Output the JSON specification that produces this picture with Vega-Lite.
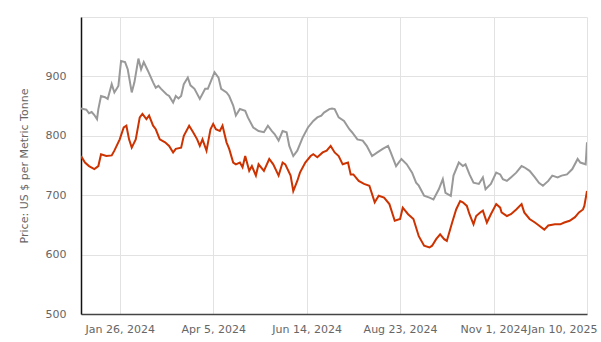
{
  "$schema": "https://vega.github.io/schema/vega-lite/v6.json",
  "width": 506,
  "height": 297,
  "autosize": {"type": "none"},
  "padding": {"left": 81, "top": 17, "right": 14, "bottom": 28},
  "background": "white",
  "config": {"view": {"stroke": null}},
  "datasets": {
    "grey": [
      {"date":"2023-12-28","price":846},{"date":"2024-01-01","price":844},{"date":"2024-01-03","price":838},{"date":"2024-01-05","price":840},{"date":"2024-01-07","price":835},{"date":"2024-01-09","price":828},{"date":"2024-01-10","price":845},{"date":"2024-01-12","price":867},{"date":"2024-01-15","price":865},{"date":"2024-01-17","price":862},{"date":"2024-01-20","price":887},{"date":"2024-01-22","price":873},{"date":"2024-01-25","price":884},{"date":"2024-01-27","price":926},{"date":"2024-01-30","price":924},{"date":"2024-02-01","price":912},{"date":"2024-02-04","price":873},{"date":"2024-02-06","price":890},{"date":"2024-02-09","price":930},{"date":"2024-02-11","price":912},{"date":"2024-02-13","price":924},{"date":"2024-02-16","price":910},{"date":"2024-02-20","price":890},{"date":"2024-02-22","price":881},{"date":"2024-02-24","price":884},{"date":"2024-02-26","price":879},{"date":"2024-03-01","price":870},{"date":"2024-03-03","price":867},{"date":"2024-03-06","price":856},{"date":"2024-03-08","price":867},{"date":"2024-03-10","price":863},{"date":"2024-03-12","price":867},{"date":"2024-03-14","price":887},{"date":"2024-03-17","price":898},{"date":"2024-03-19","price":885},{"date":"2024-03-22","price":879},{"date":"2024-03-26","price":862},{"date":"2024-03-30","price":879},{"date":"2024-04-01","price":879},{"date":"2024-04-04","price":896},{"date":"2024-04-06","price":907},{"date":"2024-04-09","price":898},{"date":"2024-04-11","price":879},{"date":"2024-04-15","price":873},{"date":"2024-04-17","price":867},{"date":"2024-04-20","price":851},{"date":"2024-04-22","price":834},{"date":"2024-04-25","price":845},{"date":"2024-04-29","price":842},{"date":"2024-05-01","price":831},{"date":"2024-05-05","price":814},{"date":"2024-05-09","price":808},{"date":"2024-05-13","price":806},{"date":"2024-05-16","price":817},{"date":"2024-05-19","price":808},{"date":"2024-05-21","price":803},{"date":"2024-05-24","price":792},{"date":"2024-05-27","price":808},{"date":"2024-05-30","price":806},{"date":"2024-06-01","price":783},{"date":"2024-06-04","price":766},{"date":"2024-06-07","price":775},{"date":"2024-06-11","price":797},{"date":"2024-06-15","price":814},{"date":"2024-06-19","price":825},{"date":"2024-06-22","price":831},{"date":"2024-06-25","price":834},{"date":"2024-06-27","price":839},{"date":"2024-07-01","price":845},{"date":"2024-07-03","price":846},{"date":"2024-07-05","price":845},{"date":"2024-07-08","price":831},{"date":"2024-07-12","price":825},{"date":"2024-07-16","price":811},{"date":"2024-07-18","price":806},{"date":"2024-07-22","price":794},{"date":"2024-07-26","price":792},{"date":"2024-07-29","price":783},{"date":"2024-08-02","price":766},{"date":"2024-08-06","price":772},{"date":"2024-08-10","price":778},{"date":"2024-08-14","price":783},{"date":"2024-08-16","price":772},{"date":"2024-08-20","price":749},{"date":"2024-08-24","price":761},{"date":"2024-08-28","price":752},{"date":"2024-09-01","price":738},{"date":"2024-09-04","price":721},{"date":"2024-09-06","price":716},{"date":"2024-09-10","price":699},{"date":"2024-09-14","price":696},{"date":"2024-09-17","price":693},{"date":"2024-09-21","price":710},{"date":"2024-09-24","price":727},{"date":"2024-09-26","price":704},{"date":"2024-09-30","price":699},{"date":"2024-10-02","price":733},{"date":"2024-10-06","price":755},{"date":"2024-10-09","price":749},{"date":"2024-10-11","price":752},{"date":"2024-10-14","price":735},{"date":"2024-10-17","price":721},{"date":"2024-10-21","price":719},{"date":"2024-10-24","price":730},{"date":"2024-10-26","price":710},{"date":"2024-10-30","price":719},{"date":"2024-11-03","price":738},{"date":"2024-11-06","price":735},{"date":"2024-11-08","price":727},{"date":"2024-11-11","price":724},{"date":"2024-11-14","price":730},{"date":"2024-11-18","price":738},{"date":"2024-11-22","price":749},{"date":"2024-11-24","price":747},{"date":"2024-11-28","price":741},{"date":"2024-12-02","price":730},{"date":"2024-12-05","price":721},{"date":"2024-12-08","price":716},{"date":"2024-12-12","price":724},{"date":"2024-12-15","price":733},{"date":"2024-12-19","price":730},{"date":"2024-12-22","price":733},{"date":"2024-12-26","price":735},{"date":"2024-12-30","price":744},{"date":"2025-01-03","price":761},{"date":"2025-01-05","price":755},{"date":"2025-01-09","price":752},{"date":"2025-01-10","price":789}
    ],
    "red": [
      {"date":"2023-12-28","price":766},{"date":"2023-12-31","price":755},{"date":"2024-01-03","price":749},{"date":"2024-01-07","price":744},{"date":"2024-01-10","price":749},{"date":"2024-01-12","price":769},{"date":"2024-01-16","price":766},{"date":"2024-01-20","price":767},{"date":"2024-01-22","price":775},{"date":"2024-01-26","price":794},{"date":"2024-01-29","price":814},{"date":"2024-01-31","price":817},{"date":"2024-02-02","price":794},{"date":"2024-02-04","price":780},{"date":"2024-02-07","price":794},{"date":"2024-02-10","price":831},{"date":"2024-02-12","price":837},{"date":"2024-02-15","price":828},{"date":"2024-02-17","price":834},{"date":"2024-02-20","price":817},{"date":"2024-02-22","price":811},{"date":"2024-02-25","price":794},{"date":"2024-02-29","price":789},{"date":"2024-03-03","price":783},{"date":"2024-03-06","price":772},{"date":"2024-03-08","price":778},{"date":"2024-03-12","price":780},{"date":"2024-03-14","price":800},{"date":"2024-03-18","price":817},{"date":"2024-03-21","price":806},{"date":"2024-03-24","price":794},{"date":"2024-03-26","price":783},{"date":"2024-03-28","price":794},{"date":"2024-03-31","price":775},{"date":"2024-04-03","price":811},{"date":"2024-04-05","price":820},{"date":"2024-04-07","price":811},{"date":"2024-04-10","price":808},{"date":"2024-04-12","price":817},{"date":"2024-04-15","price":789},{"date":"2024-04-17","price":778},{"date":"2024-04-20","price":755},{"date":"2024-04-22","price":752},{"date":"2024-04-25","price":755},{"date":"2024-04-27","price":747},{"date":"2024-04-29","price":766},{"date":"2024-05-02","price":741},{"date":"2024-05-04","price":749},{"date":"2024-05-07","price":733},{"date":"2024-05-09","price":752},{"date":"2024-05-13","price":741},{"date":"2024-05-17","price":761},{"date":"2024-05-20","price":752},{"date":"2024-05-24","price":733},{"date":"2024-05-27","price":755},{"date":"2024-05-29","price":752},{"date":"2024-06-02","price":733},{"date":"2024-06-04","price":707},{"date":"2024-06-07","price":724},{"date":"2024-06-09","price":738},{"date":"2024-06-13","price":755},{"date":"2024-06-17","price":766},{"date":"2024-06-19","price":769},{"date":"2024-06-22","price":764},{"date":"2024-06-26","price":772},{"date":"2024-06-29","price":775},{"date":"2024-07-02","price":783},{"date":"2024-07-05","price":772},{"date":"2024-07-08","price":766},{"date":"2024-07-11","price":752},{"date":"2024-07-15","price":755},{"date":"2024-07-17","price":735},{"date":"2024-07-19","price":735},{"date":"2024-07-23","price":724},{"date":"2024-07-27","price":719},{"date":"2024-07-31","price":716},{"date":"2024-08-04","price":688},{"date":"2024-08-07","price":699},{"date":"2024-08-11","price":696},{"date":"2024-08-15","price":685},{"date":"2024-08-19","price":657},{"date":"2024-08-23","price":660},{"date":"2024-08-25","price":679},{"date":"2024-08-29","price":668},{"date":"2024-09-02","price":660},{"date":"2024-09-06","price":631},{"date":"2024-09-10","price":615},{"date":"2024-09-14","price":612},{"date":"2024-09-16","price":615},{"date":"2024-09-19","price":626},{"date":"2024-09-22","price":634},{"date":"2024-09-25","price":626},{"date":"2024-09-27","price":623},{"date":"2024-10-01","price":654},{"date":"2024-10-04","price":676},{"date":"2024-10-07","price":690},{"date":"2024-10-09","price":688},{"date":"2024-10-12","price":682},{"date":"2024-10-14","price":668},{"date":"2024-10-17","price":651},{"date":"2024-10-19","price":665},{"date":"2024-10-22","price":671},{"date":"2024-10-24","price":674},{"date":"2024-10-27","price":654},{"date":"2024-10-30","price":668},{"date":"2024-11-03","price":685},{"date":"2024-11-06","price":679},{"date":"2024-11-07","price":671},{"date":"2024-11-11","price":665},{"date":"2024-11-14","price":668},{"date":"2024-11-18","price":676},{"date":"2024-11-22","price":685},{"date":"2024-11-24","price":671},{"date":"2024-11-28","price":660},{"date":"2024-12-02","price":654},{"date":"2024-12-05","price":649},{"date":"2024-12-09","price":642},{"date":"2024-12-12","price":649},{"date":"2024-12-17","price":651},{"date":"2024-12-21","price":651},{"date":"2024-12-24","price":654},{"date":"2024-12-28","price":657},{"date":"2025-01-01","price":663},{"date":"2025-01-04","price":671},{"date":"2025-01-07","price":676},{"date":"2025-01-08","price":682},{"date":"2025-01-10","price":707}
    ]
  },
  "encoding": {
    "x": {
      "field": "date",
      "type": "temporal",
      "scale": {
        "type": "utc",
        "domain": [
          {"year": 2023, "month": 12, "date": 28, "utc": true},
          {"year": 2025, "month": 1, "date": 10, "utc": true}
        ]
      },
      "axis": {
        "title": null,
        "values": [
          {"year": 2024, "month": 1, "date": 26, "utc": true},
          {"year": 2024, "month": 4, "date": 5, "utc": true},
          {"year": 2024, "month": 6, "date": 14, "utc": true},
          {"year": 2024, "month": 8, "date": 23, "utc": true},
          {"year": 2024, "month": 11, "date": 1, "utc": true},
          {"year": 2025, "month": 1, "date": 10, "utc": true}
        ],
        "labelExpr": "utcFormat(datum.value, '%b %-d, %Y')",
        "labelFont": "DejaVu Sans",
        "labelFontSize": 11,
        "labelColor": "#666666",
        "labelPadding": 9,
        "labelOverlap": false,
        "labelBound": false,
        "labelFlush": false,
        "labelAlign": {"condition": {"test": "datum.value > 1736000000000", "value": "right"}, "value": "center"},
        "labelOffset": {"condition": {"test": "datum.value > 1736000000000", "value": 10}, "value": 0},
        "ticks": false,
        "domainColor": "#444444",
        "domainWidth": 1.5,
        "gridColor": "#e2e2e2",
        "gridWidth": 1
      }
    },
    "y": {
      "field": "price",
      "type": "quantitative",
      "scale": {"domain": [500, 1000], "nice": false, "zero": false},
      "axis": {
        "title": "Price: US $ per Metric Tonne",
        "titleFont": "DejaVu Sans",
        "titleFontSize": 11,
        "titleFontWeight": "normal",
        "titleColor": "#666666",
        "titlePadding": 16,
        "values": [500, 600, 700, 800, 900, 1000],
        "labelExpr": "datum.value >= 1000 ? '' : datum.label",
        "labelFont": "DejaVu Sans",
        "labelFontSize": 11,
        "labelColor": "#666666",
        "labelPadding": 15,
        "ticks": false,
        "domainColor": "#111111",
        "domainWidth": 1.5,
        "gridColor": "#e2e2e2",
        "gridWidth": 1
      }
    }
  },
  "layer": [
    {
      "data": {"name": "grey"},
      "mark": {"type": "line", "color": "#999999", "strokeWidth": 2, "clip": true}
    },
    {
      "data": {"name": "red"},
      "mark": {"type": "line", "color": "#cc3300", "strokeWidth": 2, "clip": true}
    }
  ]
}
